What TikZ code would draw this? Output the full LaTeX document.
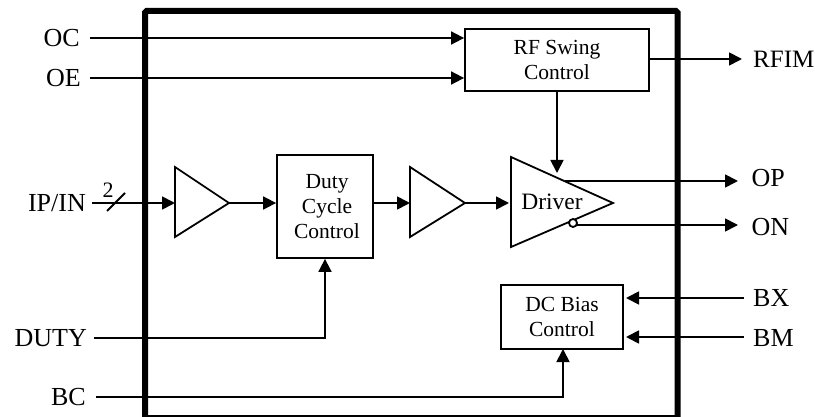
\documentclass[tikz,border=0pt]{standalone}
\usepackage{fontspec}
\setmainfont{Liberation Serif}
\usetikzlibrary{arrows.meta}
\tikzset{
	sigline/.style={line width=1.8pt, -{Triangle[length=13pt,width=13pt]}},
	plainline/.style={line width=1.8pt},
	blockbox/.style={draw, line width=1.8pt, align=center, inner sep=0pt, font=\fontsize{21.5}{25}\selectfont},
	pinlabel/.style={inner sep=0pt, font=\fontsize{26}{28}\selectfont},
}
\begin{document}
\begin{tikzpicture}[x=1pt,y=-1pt]
	\useasboundingbox (0,0) rectangle (815,417);
	% chip outline
	\draw[line width=6pt, rounded corners=1.5pt] (145,420) -- (145,11) -- (677.5,11) -- (677.5,420);
	\draw[line width=1.3pt] (145,416) -- (677.5,416);
	% blocks
	\node[blockbox, minimum width=184pt, minimum height=62pt] (rfswing) at (557,60) {RF Swing\\Control};
	\node[blockbox, minimum width=96pt, minimum height=103pt] (duty) at (325,206.5) {\hspace*{4pt}Duty\\\hspace*{4pt}Cycle\\\hspace*{4pt}Control};
	\node[blockbox, minimum width=122pt, minimum height=64pt] (dcbias) at (562,317) {DC Bias\\Control};
	% triangles
	\draw[plainline] (175,167) coordinate (bufa) -- (229,203) coordinate (bufatip) -- (175,237) -- cycle;
	\draw[plainline] (410,167) coordinate (bufb) -- (465,203) coordinate (bufbtip) -- (410,237) -- cycle;
	\draw[plainline] (511,157) -- (613,203) -- (511,247) -- cycle;
	\node[inner sep=0pt, font=\fontsize{23.5}{26}\selectfont] (driver) at (552,202) {Driver};
	\draw[plainline, fill=white] (573,223) circle (4pt);
	% pins
	\node[pinlabel, anchor=east] (oc) at (80,38) {OC};
	\node[pinlabel, anchor=east] (oe) at (81,78) {OE};
	\node[pinlabel, anchor=east] (ipin) at (86,203) {IP/IN};
	\node[pinlabel, anchor=east] (dutypin) at (87,338) {DUTY};
	\node[pinlabel, anchor=east] (bc) at (86,397) {BC};
	\node[pinlabel, anchor=west, font=\fontsize{25}{28}\selectfont] (rfim) at (753,59) {RFIM};
	\node[pinlabel, anchor=west] (op) at (751.5,178.5) {OP};
	\node[pinlabel, anchor=west] (on) at (751.5,227) {ON};
	\node[pinlabel, anchor=west] (bx) at (753,298) {BX};
	\node[pinlabel, anchor=west] (bm) at (753,338) {BM};
	% connectors
	\draw[sigline] (90,38) -- (rfswing.west |- oc);
	\draw[sigline] (90,78) -- (rfswing.west |- oe);
	\draw[sigline] (rfswing.east |- rfim) -- (742,59);
	\draw[sigline] (557,91) -- (557,173);
	\draw[sigline] (92,203) -- (bufa |- ipin);
	\draw[sigline] (bufatip) -- (duty.west |- bufatip);
	\draw[sigline] (duty.east |- bufbtip) -- (bufb |- bufbtip);
	\draw[sigline] (bufbtip) -- (509,203);
	\draw[sigline] (565,181) -- (738,181);
	\draw[sigline] (577,225) -- (738,225);
	\draw[plainline] (107,211) -- (125,193);
	\node[inner sep=0pt, font=\fontsize{22}{24}\selectfont] (wires) at (108,190) {2};
	\draw[sigline] (94,338) -| (duty.south);
	\draw[sigline] (96,397) -| (563,349);
	\draw[sigline] (744,298) -- (626,298);
	\draw[sigline] (744,337) -- (626,337);
\end{tikzpicture}
\end{document}
